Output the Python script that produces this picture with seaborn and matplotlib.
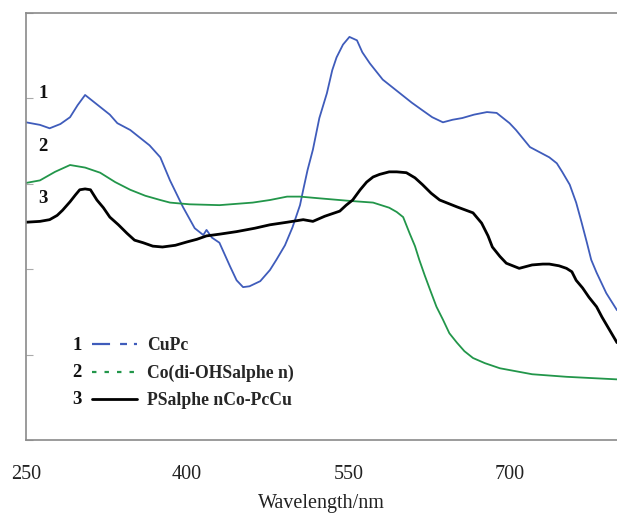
import numpy as np
import pandas as pd
import seaborn as sns
import matplotlib
matplotlib.use("Agg")
import matplotlib.pyplot as plt
from matplotlib.lines import Line2D

# ---------------- data ----------------
cupc_nm = [250, 263, 272, 282, 291, 298, 305, 311, 319, 328, 335, 347, 356, 365, 375, 384,
           396, 407, 415, 418, 423, 430, 435, 440, 446, 452, 458, 468, 477, 483, 491, 498,
           505, 508, 512, 517, 523, 530, 535, 539, 545, 551, 558, 563, 570, 582, 598, 609,
           619, 628, 638, 647, 656, 667, 679, 688, 693, 700, 706, 719, 728, 737, 744, 749,
           756, 762, 767, 772, 776, 781, 790, 800]
cupc_abs = [3.72, 3.69, 3.65, 3.70, 3.78, 3.92, 4.04, 3.98, 3.90, 3.81, 3.71, 3.63, 3.54, 3.45, 3.31, 3.04,
            2.73, 2.48, 2.40, 2.46, 2.37, 2.31, 2.17, 2.03, 1.87, 1.79, 1.80, 1.86, 1.99, 2.11, 2.28, 2.49,
            2.75, 2.93, 3.16, 3.40, 3.77, 4.06, 4.33, 4.48, 4.63, 4.72, 4.68, 4.54, 4.41, 4.22, 4.06, 3.95,
            3.86, 3.78, 3.72, 3.75, 3.77, 3.81, 3.84, 3.83, 3.78, 3.71, 3.63, 3.43, 3.37, 3.31, 3.24, 3.14,
            2.99, 2.78, 2.55, 2.31, 2.11, 1.96, 1.72, 1.52]

cosal_nm = [250, 263, 277, 291, 305, 319, 333, 347, 361, 375, 384, 402, 430, 461, 477, 493,
            505, 523, 551, 573, 588, 595, 601, 607, 612, 616, 621, 626, 632, 638, 644, 651,
            658, 666, 677, 691, 721, 753, 800]
cosal_abs = [3.01, 3.04, 3.14, 3.22, 3.19, 3.13, 3.02, 2.93, 2.86, 2.81, 2.78, 2.76, 2.75, 2.78, 2.81, 2.85,
             2.85, 2.83, 2.80, 2.78, 2.72, 2.67, 2.61, 2.42, 2.27, 2.11, 1.93, 1.76, 1.56, 1.41, 1.25, 1.14,
             1.04, 0.96, 0.90, 0.84, 0.77, 0.74, 0.71]

poly_nm = [250, 263, 272, 279, 284, 291, 296, 300, 305, 310, 316, 322, 328, 336, 344, 351,
           359, 368, 377, 389, 400, 409, 418, 430, 446, 463, 477, 493, 508, 517, 528, 542,
           548, 554, 561, 567, 573, 579, 588, 595, 604, 612, 619, 627, 635, 651, 666, 674,
           680, 684, 691, 697, 709, 721, 731, 737, 746, 753, 758, 762, 768, 774, 781, 786,
           793, 800]
poly_abs = [2.55, 2.56, 2.58, 2.63, 2.69, 2.79, 2.87, 2.93, 2.94, 2.93, 2.81, 2.72, 2.61, 2.52, 2.42, 2.34,
            2.31, 2.27, 2.26, 2.28, 2.32, 2.35, 2.39, 2.41, 2.44, 2.48, 2.52, 2.55, 2.58, 2.56, 2.62, 2.68,
            2.75, 2.81, 2.93, 3.02, 3.08, 3.11, 3.14, 3.14, 3.13, 3.07, 2.99, 2.89, 2.81, 2.73, 2.66, 2.54,
            2.39, 2.26, 2.15, 2.07, 2.01, 2.05, 2.06, 2.06, 2.04, 2.01, 1.97, 1.87, 1.78, 1.67, 1.56, 1.44,
            1.29, 1.14]

series_names = ["CuPc", "Co(di-OHSalphe n)", "PSalphe nCo-PcCu"]
series_nums = ["1", "2", "3"]
x_ticks = [250, 400, 550, 700]

# ---------------- styling ----------------
sns.set_theme(style="white")
plt.rcParams["font.family"] = ["Liberation Serif", "DejaVu Serif"]
plt.rcParams["lines.scale_dashes"] = False

colors = ["#3f5cbb", "#22964a", "#000000"]
widths = [1.3, 1.3, 2.0]

fig = plt.figure(figsize=(6.17, 5.17), dpi=100)
ax = fig.add_axes([26 / 617, 77 / 517, 591 / 617, 427 / 517])

frames = [
    pd.DataFrame({"nm": cupc_nm, "A": cupc_abs}),
    pd.DataFrame({"nm": cosal_nm, "A": cosal_abs}),
    pd.DataFrame({"nm": poly_nm, "A": poly_abs}),
]
for df, c, w in zip(frames, colors, widths):
    sns.lineplot(data=df, x="nm", y="A", ax=ax, color=c, linewidth=w,
                 estimator=None, sort=False, legend=False)

ax.set_xlim(250, 800)
ax.set_ylim(0, 5)
ax.set_xticks(x_ticks)
ax.set_xticklabels([str(t) for t in x_ticks])
ax.set_yticks([0, 1, 2, 3, 4, 5])
ax.set_yticklabels([])
ax.set_ylabel("")
ax.set_xlabel("Wavelength/nm", fontsize=14.5, labelpad=7.5, color="#222222")

ax.tick_params(axis="x", direction="in", length=5, width=0.8, color="#aaaaaa",
               labelsize=14.5, pad=18, labelcolor="#222222")
ax.tick_params(axis="y", direction="in", length=5, width=0.8, color="#aaaaaa", left=True)
for side in ["left", "bottom", "top"]:
    ax.spines[side].set_visible(True)
    ax.spines[side].set_color("#8a8a8a")
    ax.spines[side].set_linewidth(1.2)
ax.spines["right"].set_visible(False)

# curve number labels
for num, yv in zip(series_nums, [4.06, 3.44, 2.83]):
    ax.text(265.8, yv, num, fontsize=13.5, fontweight="bold", ha="center", va="center",
            color="#111111")

# legend
handles = [
    Line2D([], [], color=colors[0], linewidth=1.6, dashes=[13, 7.2, 5, 5, 2.2, 9]),
    Line2D([], [], color=colors[1], linewidth=1.6, dashes=[3.2, 5.8]),
    Line2D([], [], color=colors[2], linewidth=2.0),
]
leg = ax.legend(handles, series_names, loc="upper left",
                bbox_to_anchor=(92 / 617, (517 - 337) / 517), bbox_transform=fig.transFigure,
                frameon=False, borderpad=0, borderaxespad=0, handlelength=2.55,
                handletextpad=0.55, labelspacing=0.6,
                prop={"family": "Liberation Serif", "weight": "bold", "size": 12.7})
for i, num in enumerate(series_nums):
    fig.text(77 / 617, (517 - (345 + 27.5 * i)) / 517, num, fontsize=13.5, fontweight="bold",
             ha="center", va="center", color="#111111")

fig.savefig("out.png", dpi=100)
